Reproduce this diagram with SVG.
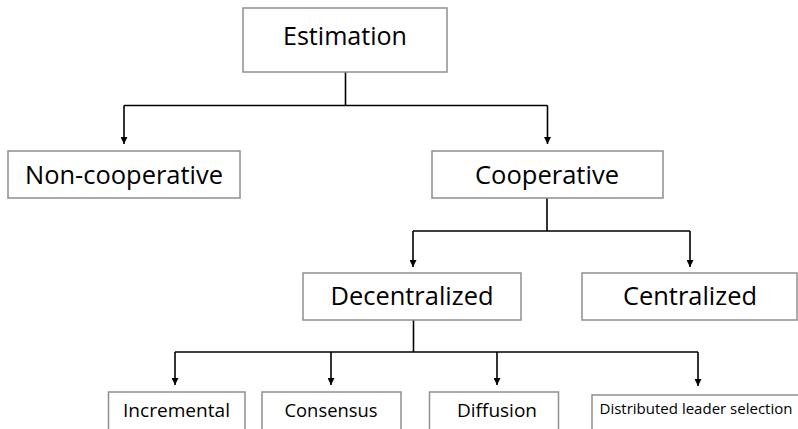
<svg xmlns="http://www.w3.org/2000/svg" width="798" height="429" viewBox="0 0 798 429">
  <defs>
    <marker id="arrow" viewBox="0 0 10 10" refX="10" refY="5" markerWidth="7" markerHeight="7" markerUnits="userSpaceOnUse" orient="auto">
      <path d="M0,0 L10,5 L0,10 z" fill="#000"/>
    </marker>
    <style>
      .box { fill: #fff; stroke: #8f8f8f; stroke-width: 1.5; }
      .lbl { font-family: "Open Sans", "Noto Sans", "Liberation Sans", sans-serif; fill: #000; text-anchor: middle; }
      .big { font-size: 25px; }
      .mid { font-size: 19px; }
      .small { font-size: 15px; }
      .wire { fill: none; stroke: #000; stroke-width: 1.6; }
      .tip { marker-end: url(#arrow); }
    </style>
  </defs>

  <rect width="798" height="429" fill="#fff"/>

  <!-- connectors -->
  <g id="connectors">
    <path class="wire" d="M345.5,72 V105.5 M124,105.5 H547.5"/>
    <path class="wire tip" d="M124,105.5 V144"/>
    <path class="wire tip" d="M547.5,105.5 V144"/>

    <path class="wire" d="M547,198 V231 M413,231 H690"/>
    <path class="wire tip" d="M413,231 V267"/>
    <path class="wire tip" d="M690,231 V267"/>

    <path class="wire" d="M413.5,320 V352 M175,352 H698"/>
    <path class="wire tip" d="M175,352 V385"/>
    <path class="wire tip" d="M331,352 V385"/>
    <path class="wire tip" d="M497,352 V385"/>
    <path class="wire tip" d="M698,352 V386"/>
  </g>

  <!-- nodes -->
  <g id="estimation">
    <rect class="box" x="243" y="8" width="204" height="64"/>
    <text class="lbl big" x="345" y="45" textLength="124" lengthAdjust="spacingAndGlyphs">Estimation</text>
  </g>

  <g id="non-cooperative">
    <rect class="box" x="8" y="151" width="232" height="47"/>
    <text class="lbl big" x="124" y="184" textLength="198" lengthAdjust="spacingAndGlyphs">Non-cooperative</text>
  </g>

  <g id="cooperative">
    <rect class="box" x="432" y="151" width="231" height="47"/>
    <text class="lbl big" x="547" y="184" textLength="144" lengthAdjust="spacingAndGlyphs">Cooperative</text>
  </g>

  <g id="decentralized">
    <rect class="box" x="303" y="273" width="218" height="47"/>
    <text class="lbl big" x="412" y="305" textLength="163" lengthAdjust="spacingAndGlyphs">Decentralized</text>
  </g>

  <g id="centralized">
    <rect class="box" x="582" y="273" width="215" height="47"/>
    <text class="lbl big" x="690" y="305" textLength="134" lengthAdjust="spacingAndGlyphs">Centralized</text>
  </g>

  <g id="incremental">
    <rect class="box" x="108.5" y="392" width="136.5" height="50"/>
    <text class="lbl mid" x="176.5" y="417" textLength="107" lengthAdjust="spacingAndGlyphs">Incremental</text>
  </g>

  <g id="consensus">
    <rect class="box" x="262" y="392" width="139" height="50"/>
    <text class="lbl mid" x="331" y="417" textLength="93" lengthAdjust="spacingAndGlyphs">Consensus</text>
  </g>

  <g id="diffusion">
    <rect class="box" x="429.5" y="392" width="129" height="50"/>
    <text class="lbl mid" x="497" y="417" textLength="80" lengthAdjust="spacingAndGlyphs">Diffusion</text>
  </g>

  <g id="distributed-leader-selection">
    <rect class="box" x="592" y="395" width="215" height="50"/>
    <text class="lbl small" x="696" y="414" textLength="193" lengthAdjust="spacingAndGlyphs">Distributed leader selection</text>
  </g>
</svg>
